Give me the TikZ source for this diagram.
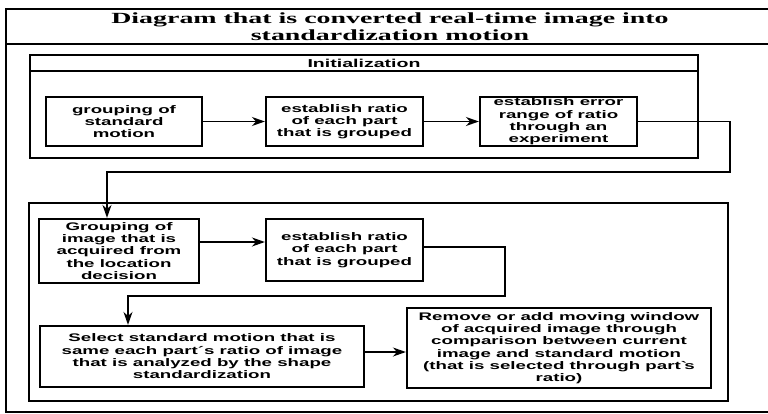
\documentclass[tikz,border=0pt]{standalone}
\usepackage{fontspec}
\usetikzlibrary{arrows.meta}
\newfontfamily\boxfont{Liberation Sans}[FakeStretch=1.7]
\newfontfamily\titlefont{Liberation Serif}[FakeStretch=1.8]

\begin{document}
\begin{tikzpicture}[x=1pt, y=-1pt, >={Stealth[length=13pt,width=9pt]}]
  % Define styles
  \tikzstyle{frame} = [draw, line width=1.6pt]
  \tikzstyle{block} = [rectangle, draw, line width=2.2pt, align=center, inner sep=0pt, font=\boxfont\bfseries\fontsize{11}{12.3}\selectfont]
  \tikzstyle{flow} = [->, line width=1.8pt]

  \useasboundingbox (0,0) rectangle (768,413);

  % Outer frame and title
  \draw[frame] (6,9) rectangle (780,412);
  \draw[frame] (6,44) -- (780,44);
  \node[font=\titlefont\bfseries\fontsize{15.5}{16.5}\selectfont, align=center] (title) at (390,26.5) {Diagram that is converted real-time image into\\standardization motion};

  % Initialization stage
  \draw[frame] (30,55) rectangle (698,158);
  \draw[frame] (30,71) -- (698,71);
  \node[font=\boxfont\bfseries\fontsize{11.5}{13}\selectfont] (inithead) at (364,63) {Initialization};

  \node[block, minimum width=156, minimum height=49] (grpstd) at (124,121.5) {grouping of\\standard\\motion};
  \node[block, minimum width=157, minimum height=49] (ratio) at (344.5,121.5) {establish ratio\\of each part\\that is grouped};
  \node[block, minimum width=157, minimum height=49] (errrange) at (558.5,121.5) {establish error\\range of ratio\\through an\\experiment};

  % Real-time stage
  \draw[frame] (29,203) rectangle (728,401);

  \node[block, minimum width=160, minimum height=64] (grpimg) at (119,251) {Grouping of\\image that is\\acquired from\\the location\\decision};
  \node[block, minimum width=157, minimum height=62] (ratioimg) at (344.5,250) {establish ratio\\of each part\\that is grouped};
  \node[block, minimum width=324, minimum height=61] (select) at (202,356.5) {Select standard motion that is\\same each part´s ratio of image\\that is analyzed by the shape\\standardization};
  \node[block, minimum width=304, minimum height=80] (remove) at (559,348) {Remove or add moving window\\of acquired image through\\comparison between current\\image and standard motion\\(that is selected through part\textasciigrave s\\ratio)};

  % Bends of the long connectors
  \coordinate (turn1) at (730,172);
  \coordinate (drop1) at (107,172);
  \coordinate (turn2) at (505,296);
  \coordinate (drop2) at (128,296);

  % Arrows
  \draw[flow] (grpstd) -- (ratio);
  \draw[flow] (ratio) -- (errrange);
  \draw[flow] (errrange.east) -| (turn1) -- (drop1) -- (drop1 |- grpimg.north);
  \draw[flow] ([yshift=9pt]grpimg.east) -- ([yshift=9pt]grpimg.east -| ratioimg.west);
  \draw[flow] ([yshift=3pt]ratioimg.east) -| (turn2) -- (drop2) -- (drop2 |- select.north);
  \draw[flow] ([yshift=4.5pt]select.east) -- ([yshift=4.5pt]select.east -| remove.west);
\end{tikzpicture}
\end{document}
